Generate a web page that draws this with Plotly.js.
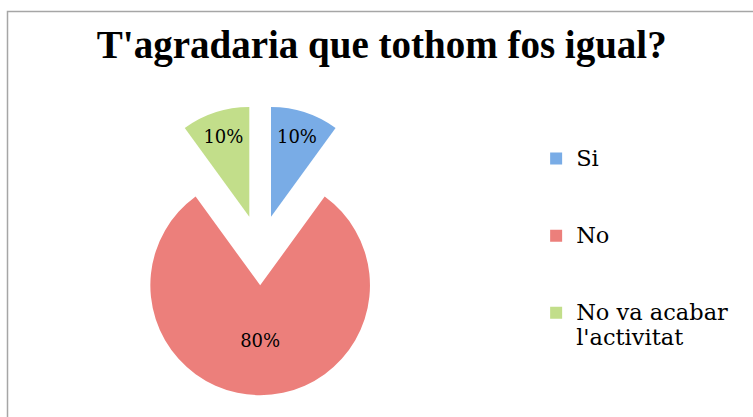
<!DOCTYPE html>
<html>
<head>
<meta charset="utf-8">
<script src="https://cdn.plot.ly/plotly-3.0.1.min.js"></script>
<style>html,body{margin:0;padding:0;background:#fff;}#chart{width:753px;height:417px;}</style>
</head>
<body>
<div id="chart"></div>
<script>
var categories = ["Si", "No", "No va acabar l'activitat"];
var legendNames = ["Si", "No", "No va acabar<br>l'activitat"];
var values = [10, 80, 10];
var colors = ["#79ace6", "#ec7f7b", "#c2de8a"];
var titleText = "T'agradaria que tothom fos igual?";

var padded = legendNames.map(function (s) {
  return '<br><span style="font-family:\'DejaVu Serif\';font-size:22.5px">' +
    s.split('<br>').join('</span><br><span style="font-family:\'DejaVu Serif\';font-size:22.5px">') + '</span>';
});
padded = padded.map(function (s, i) { return i < 2 ? s + '<br> ' : s; });

var trace = {
  type: 'pie',
  labels: padded,
  values: values,
  customdata: categories,
  sort: false,
  direction: 'clockwise',
  rotation: 0,
  pull: [0.32, 0.32, 0.32],
  marker: { colors: colors, line: { width: 0 } },
  textinfo: 'percent',
  texttemplate: '%{percent:.0%}',
  hovertemplate: '%{customdata}: %{percent:.0%}<extra></extra>',
  textposition: 'inside',
  insidetextorientation: 'horizontal',
  textfont: { family: 'DejaVu Serif', size: 18, color: '#000' },
  domain: { x: [0.153, 0.538], y: [0.05, 0.75] }
};

var layout = {
  width: 753, height: 417,
  margin: { l: 0, r: 0, t: 0, b: 0 },
  paper_bgcolor: '#fff',
  title: {
    text: '<b>' + titleText + '</b>',
    font: { family: 'Liberation Serif', size: 39, color: '#000' },
    x: 0.507, xanchor: 'center', y: 0.893, yanchor: 'middle'
  },
  showlegend: true,
  legend: {
    x: 0.712, xanchor: 'left', y: 0.434, yanchor: 'middle',
    font: { family: 'DejaVu Serif', size: 19, color: '#000' },
    valign: 'middle',
    bgcolor: 'rgba(0,0,0,0)'
  },
  shapes: [{
    type: 'rect', xref: 'paper', yref: 'paper',
    x0: 7.5 / 753, x1: 1.02, y0: -0.02, y1: 1 - 11.5 / 417,
    line: { color: '#a6a6a6', width: 1.5 }, fillcolor: 'rgba(0,0,0,0)'
  }]
};

Plotly.newPlot('chart', [trace], layout, { displayModeBar: false, staticPlot: true });
</script>
</body>
</html>
